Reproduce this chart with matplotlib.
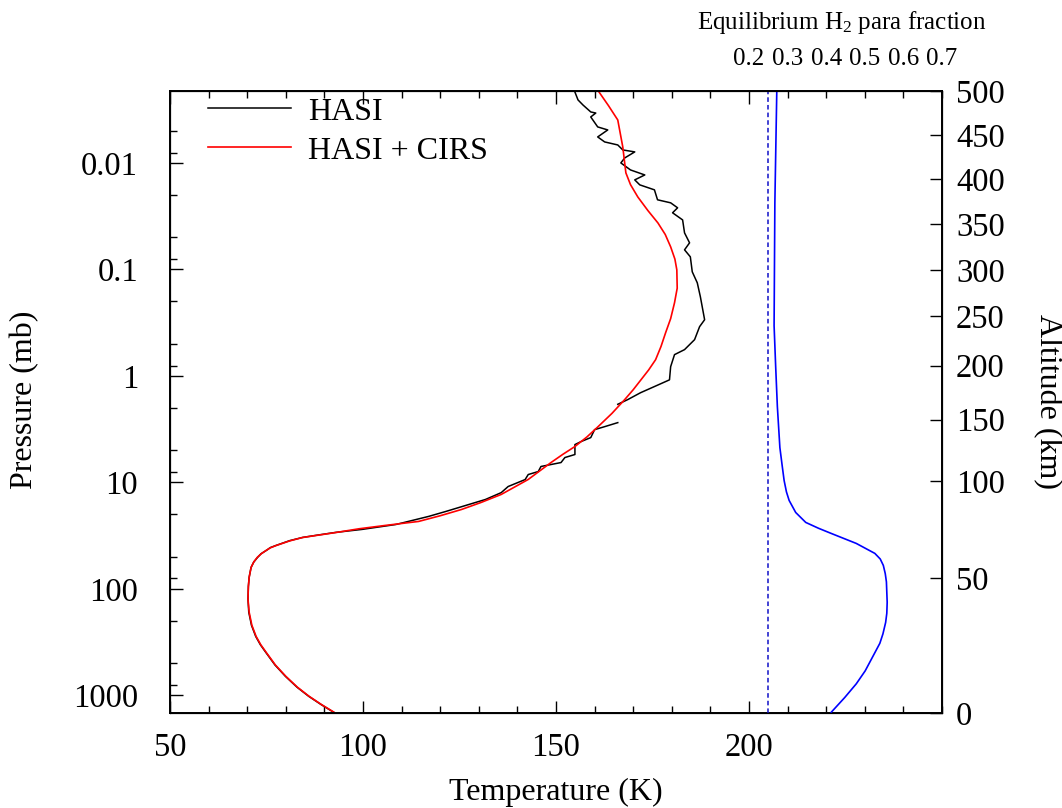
import numpy as np
import matplotlib
matplotlib.use("Agg")
import matplotlib.pyplot as plt
from matplotlib.ticker import FixedLocator, MultipleLocator, LogLocator, NullFormatter

# ============================================================
# Data
# ============================================================

# HASI + CIRS temperature profile (K) vs pressure (mb)
cirs_T = [160.8, 163.6, 166.0, 167.3, 168.1, 169.3, 171.2, 173.8, 176.4, 178.3,
          179.7, 180.8, 181.3, 181.4, 180.7, 179.7, 178.4, 177.2, 175.8, 174.0,
          172.0, 170.0, 167.8, 164.5, 160.9, 158.0, 154.9, 151.8, 148.7, 142.8,
          135.8, 130.5, 125.5, 120.0, 114.4, 105.8, 99.0, 93.0, 88.0, 84.3,
          81.0, 77.5, 76.0, 74.9, 73.6, 72.6, 71.7, 71.0, 70.5, 70.3,
          70.2, 70.5, 71.2, 72.3, 73.5, 74.9, 77.3, 80.0, 83.0, 86.0,
          89.2, 92.5]
cirs_p = [0.00207, 0.00290, 0.00395, 0.00708, 0.0124, 0.0160, 0.0209, 0.0280, 0.0366, 0.0470,
          0.0614, 0.0800, 0.101, 0.150, 0.206, 0.290, 0.393, 0.530, 0.705, 0.880,
          1.09, 1.35, 1.67, 2.25, 3.0, 3.75, 4.61, 5.45, 6.52, 9.4,
          13.0, 15.5, 18.0, 20.6, 23.3, 25.4, 27.3, 29.6, 31.5, 33.0,
          35.5, 39.2, 41.2, 43.6, 47.0, 50.7, 56.0, 63.0, 78.0, 94.9,
          125, 166, 220, 280, 335, 395, 520, 664, 840, 1021,
          1220, 1445]

# HASI profile, upper part (down to ~2 mb)
hasi_up_T = [154.9, 155.7, 157.0, 159.0, 160.3, 159.0, 160.8, 163.4, 160.8, 162.6,
             166.0, 167.3, 170.4, 167.8, 166.8, 169.3, 173.0, 170.4, 171.7, 175.5,
             176.3, 179.7, 181.5, 180.2, 182.8, 183.3, 184.6, 183.3, 184.8, 185.3,
             186.6, 187.4, 188.5, 187.2, 185.9, 183.3, 180.7, 179.7, 179.4, 175.5,
             171.9, 168.6, 166.0]
hasi_up_p = [0.00216, 0.00256, 0.00286, 0.00332, 0.0034, 0.0037, 0.00459, 0.0049, 0.0057, 0.00635,
             0.00678, 0.00755, 0.00788, 0.00898, 0.0100, 0.01164, 0.01297, 0.01443, 0.01607, 0.0179,
             0.0222, 0.0237, 0.0264, 0.0294, 0.0343, 0.0454, 0.0563, 0.0655, 0.0762, 0.1054,
             0.1337, 0.1807, 0.297, 0.345, 0.457, 0.567, 0.632, 0.82, 1.09, 1.26,
             1.44, 1.67, 1.85]

# HASI profile, lower part (from ~3 mb to the surface)
hasi_low_T = [166.0, 162.6, 160.0, 159.0, 156.5, 154.9, 154.9, 152.3, 151.3, 146.1,
              145.4, 142.8, 142.0, 137.6, 135.8, 131.7, 127.3, 121.4, 117.0, 108.5,
              99.7, 93.0, 88.0, 84.4, 81.0, 77.6, 76.0, 75.0, 73.6, 72.7,
              71.7, 71.0, 70.5, 70.3, 70.2, 70.4, 71.1, 72.2, 73.4, 74.8,
              77.2, 79.9, 82.9, 85.9, 89.1, 92.4]
hasi_low_p = [2.75, 3.0, 3.2, 3.8, 4.14, 4.42, 5.48, 5.85, 6.52, 7.1,
              7.92, 8.45, 9.42, 10.95, 12.5, 14.5, 16.2, 18.8, 20.9, 24.9,
              27.7, 29.5, 31.4, 32.9, 35.3, 39.0, 41.0, 43.5, 46.8, 50.6,
              56.0, 63.0, 78.0, 95, 125, 166, 220, 280, 335, 395,
              520, 664, 840, 1021, 1220, 1445]

# Equilibrium H2 para fraction vs pressure (mb)
para_f = [0.272, 0.267, 0.265, 0.269, 0.2735, 0.280, 0.286, 0.291, 0.297, 0.304,
          0.321, 0.347, 0.380, 0.413, 0.478, 0.526, 0.540, 0.548, 0.553, 0.556,
          0.558, 0.557, 0.554, 0.547, 0.539, 0.517, 0.501, 0.478, 0.448, 0.413]
para_p = [0.0021, 0.0237, 0.338, 0.802, 1.95, 4.72, 7.0, 9.62, 12.3, 14.8,
          19.2, 23.8, 27.0, 30.2, 37.5, 46.5, 52.5, 60.3, 72.0, 86.1,
          134, 170, 207, 265, 325, 459, 590, 780, 1050, 1445]
normal_para = 0.25

# Altitude scale (km) and matching pressure (mb)
alt_km = [0, 50, 100, 150, 200, 250, 300, 350, 400, 450, 500]
alt_p = [1467, 79, 9.8, 2.58, 0.80, 0.276, 0.101, 0.0377, 0.0141, 0.00546, 0.00211]

p_ticks = [0.01, 0.1, 1, 10, 100, 1000]
p_labels = ["0.01", "0.1", "1", "10", "100", "1000"]
T_ticks = [50, 100, 150, 200]
f_ticks = [0.2, 0.3, 0.4, 0.5, 0.6, 0.7]

# ============================================================
# Figure
# ============================================================

plt.rcParams.update({
    "font.family": ["Liberation Serif", "DejaVu Serif"],
    "mathtext.fontset": "custom",
    "mathtext.rm": "Liberation Serif",
    "mathtext.it": "Liberation Serif:italic",
    "font.size": 23,
})

fig = plt.figure(figsize=(10.62, 8.08), dpi=100)
ax = fig.add_axes([0.1601, 0.1176, 0.7269, 0.7698])
ax_top = ax.twiny()
ax_r = ax.twinx()

# temperature profiles
ax.plot(hasi_up_T, hasi_up_p, color="black", lw=1.1, label="HASI")
ax.plot(hasi_low_T, hasi_low_p, color="black", lw=1.1)
ax.plot(cirs_T, cirs_p, color="red", lw=1.2, label="HASI + CIRS")

ax.set_yscale("log")
ax.set_ylim(1467, 0.00211)
ax.set_xlim(50, 250)

ax.xaxis.set_major_locator(FixedLocator(T_ticks))
ax.xaxis.set_minor_locator(MultipleLocator(10))
ax.yaxis.set_major_locator(FixedLocator(p_ticks))
ax.set_yticklabels(p_labels)
ax.yaxis.set_minor_locator(LogLocator(base=10, subs=(2, 5, 8), numticks=20))
ax.yaxis.set_minor_formatter(NullFormatter())

ax.tick_params(axis="x", which="both", direction="in", top=True, bottom=True,
               labelsize=23.5, pad=14)
ax.tick_params(axis="y", which="both", direction="in", left=True, right=False,
               labelsize=23.5, pad=23)
ax.tick_params(which="major", length=9, width=1)
ax.tick_params(which="minor", length=5, width=1)

for s in ax.spines.values():
    s.set_linewidth(1.4)

# para fraction on top axis
ax_top.plot(para_f, para_p, color="blue", lw=1.2)
ax_top.axvline(normal_para, color="#1010c8", lw=1.1, ls=(0, (3, 2)))
ax_top.set_xlim((50 - 180) / 100, (250 - 180) / 100)
ax_top.set_xticks(f_ticks)
ax_top.set_xticklabels(["%.1f" % f for f in f_ticks])
ax_top.tick_params(axis="x", length=0, labelsize=18, pad=15)
ax_top.set_ylim(1467, 0.00211)

# altitude on right axis
ax_r.set_yscale("log")
ax_r.set_ylim(1467, 0.00211)
ax_r.yaxis.set_major_locator(FixedLocator(alt_p))
ax_r.set_yticklabels([str(a) for a in alt_km])
ax_r.yaxis.set_minor_locator(FixedLocator([]))
ax_r.tick_params(axis="y", direction="in", length=9, width=1, labelsize=23.5, pad=10)

# ax_top / ax_r creation turns off mirrored ticks, restore them
ax.tick_params(axis="x", which="both", top=True)

leg = ax.legend(loc="upper left", bbox_to_anchor=(0.049, 0.99), frameon=False,
                fontsize=23, handlelength=2.6, handletextpad=0.55,
                labelspacing=0.3, borderaxespad=0, borderpad=0)

fig.text(25 / 1062, 1 - 400 / 808, "Pressure (mb)", rotation=90,
         ha="center", va="center", fontsize=23)
fig.text(1047 / 1062, 1 - 402 / 808, "Altitude (km)", rotation=270,
         ha="center", va="center", fontsize=23)
fig.text(556 / 1062, 1 - 792 / 808, "Temperature (K)",
         ha="center", va="center", fontsize=23)
fig.text(842 / 1062, 1 - 22 / 808, "Equilibrium H$_2$ para fraction",
         ha="center", va="center", fontsize=18)

fig.savefig("out.png", dpi=100)
